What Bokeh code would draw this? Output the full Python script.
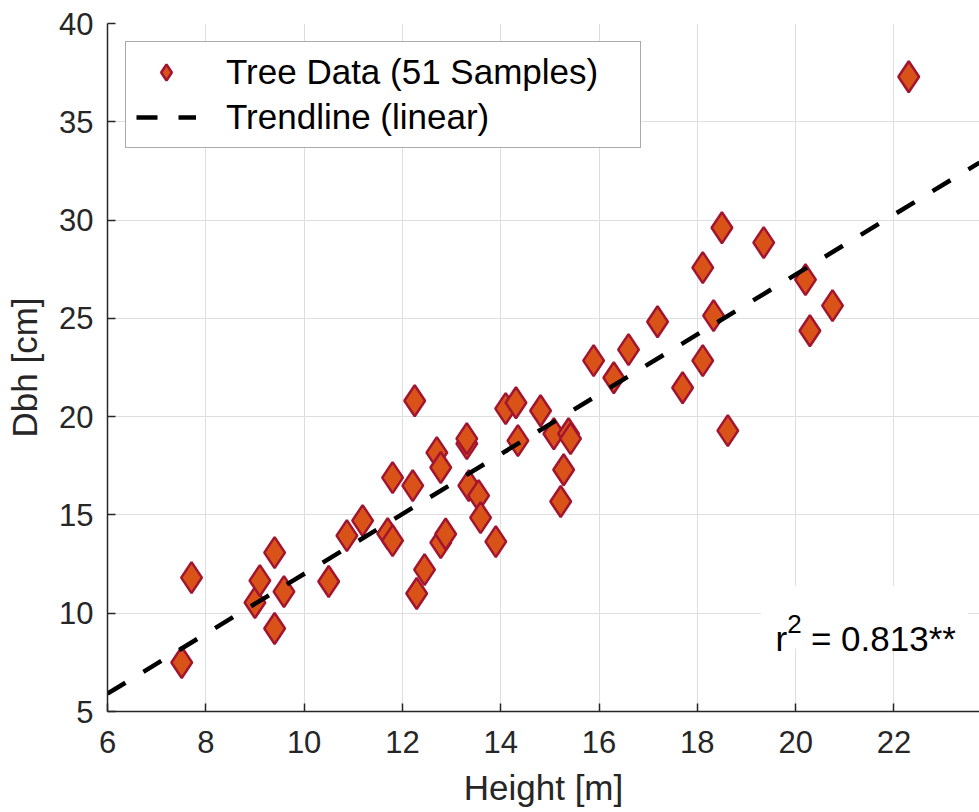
from bokeh.plotting import figure
from bokeh.models import Range1d, FixedTicker, Legend, LegendItem, Label, BoxAnnotation
from bokeh.embed import file_html
from bokeh.resources import INLINE

# ---- data ----
height_m = [7.51, 7.71, 9.00, 9.10, 9.40, 9.40, 9.59, 10.50, 10.87, 11.19,
            11.70, 11.80, 11.80, 12.21, 12.25, 12.29, 12.45, 12.70, 12.78, 12.78,
            12.88, 13.31, 13.31, 13.35, 13.55, 13.59, 13.90, 14.10, 14.31, 14.35,
            14.81, 15.08, 15.22, 15.28, 15.38, 15.42, 15.89, 16.30, 16.60, 17.19,
            17.70, 18.11, 18.11, 18.33, 18.50, 18.62, 19.35, 20.20, 20.29, 20.75,
            22.30]
dbh_cm = [7.49, 11.81, 10.54, 11.66, 13.08, 9.22, 11.10, 11.61, 13.95, 14.71,
          14.05, 13.69, 16.90, 16.49, 20.81, 11.00, 12.22, 18.17, 17.41, 13.59,
          14.03, 18.63, 18.88, 16.49, 15.98, 14.86, 13.64, 20.41, 20.71, 18.78,
          20.30, 19.13, 15.68, 17.30, 19.13, 18.88, 22.85, 21.98, 23.41, 24.83,
          21.47, 27.58, 22.85, 25.14, 29.61, 19.29, 28.85, 26.97, 24.37, 25.65,
          37.29]
trend_slope = 1.523
trend_intercept = -3.23
r2_text = "0.813**"
x_ticks = [6, 8, 10, 12, 14, 16, 18, 20, 22]
y_ticks = [5, 10, 15, 20, 25, 30, 35, 40]
x_limits = (6, 23.74)
y_limits = (5, 40)

FONT = "Liberation Sans"
DARK = "#262626"

p = figure(width=979, height=812, x_range=Range1d(*x_limits), y_range=Range1d(*y_limits),
           output_backend="svg", toolbar_location=None,
           min_border_left=107, min_border_right=0, min_border_top=23, min_border_bottom=101)
p.outline_line_color = None
p.background_fill_color = "white"

for ax, ticks in ((p.xaxis[0], x_ticks), (p.yaxis[0], y_ticks)):
    ax.ticker = FixedTicker(ticks=ticks)
    ax.axis_line_color = DARK
    ax.axis_line_width = 1.5
    ax.major_tick_line_color = DARK
    ax.major_tick_line_width = 1.5
    ax.major_tick_in = 8
    ax.major_tick_out = 0
    ax.minor_tick_line_color = None
    ax.major_label_text_font = FONT
    ax.major_label_text_font_size = "31px"
    ax.major_label_text_color = DARK
    ax.axis_label_text_font = FONT
    ax.axis_label_text_font_size = "35px"
    ax.axis_label_text_font_style = "normal"
    ax.axis_label_text_color = DARK

p.xaxis.axis_label = "Height [m]"
p.yaxis.axis_label = "Dbh [cm]"
p.xaxis.major_label_standoff = 19
p.xaxis.axis_label_standoff = 12
p.yaxis.major_label_standoff = 14
p.yaxis.axis_label_standoff = 12

p.xgrid.ticker = FixedTicker(ticks=x_ticks)
p.ygrid.ticker = FixedTicker(ticks=y_ticks)
for g in (p.xgrid[0], p.ygrid[0]):
    g.grid_line_color = "#dedede"
    g.grid_line_width = 1

sc = p.scatter(height_m, dbh_cm, marker="diamond", size=31,
               fill_color="#D95319", line_color="#A2142F", line_width=2.5)

trend_x = list(x_limits)
trend_y = [trend_slope * xv + trend_intercept for xv in trend_x]
ln = p.line(trend_x, trend_y, line_color="black", line_width=4.5, line_dash="21 21")

legend = Legend(items=[LegendItem(label="Tree Data (51 Samples)", renderers=[sc]),
                       LegendItem(label="Trendline (linear)", renderers=[ln])],
                location="top_left", margin=18, padding=10, spacing=5,
                glyph_width=60, glyph_height=40, label_height=40, label_width=404,
                label_standoff=30,
                label_text_font=FONT, label_text_font_size="35px", label_text_color="black",
                border_line_color="#555555", border_line_width=1.5,
                background_fill_color="white", background_fill_alpha=1)
p.add_layout(legend)

box = BoxAnnotation(left=19.29, right=23.50, bottom=8.19, top=11.40,
                    fill_color="white", fill_alpha=1, line_color=None)
p.add_layout(box)
p.add_layout(Label(x=19.59, y=8.70, text="r", text_font=FONT, text_font_size="35px",
                   text_color="black", text_baseline="alphabetic"))
p.add_layout(Label(x=19.83, y=9.45, text="2", text_font=FONT, text_font_size="26px",
                   text_color="black", text_baseline="alphabetic"))
p.add_layout(Label(x=20.31, y=8.70, text="= " + r2_text, text_font=FONT, text_font_size="35px",
                   text_color="black", text_baseline="alphabetic"))

open("out.html", "w").write(file_html(p, INLINE))
